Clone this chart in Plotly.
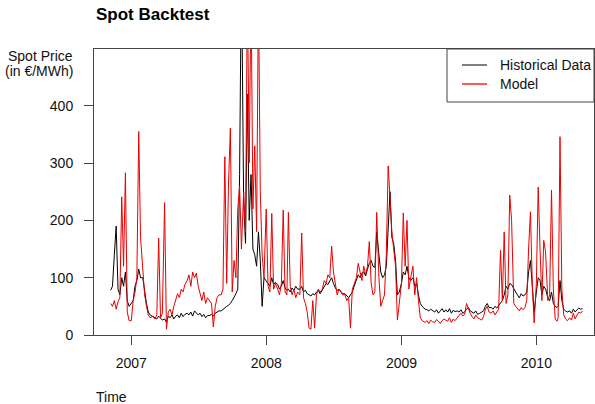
import pandas as pd
import plotly.graph_objects as go

# ---------------- data ----------------
months = pd.date_range("2006-11-01", "2010-05-01", freq="MS")
sample_days = [1, 6, 11, 16, 21, 26]

historical = [
    78, 85, 140, 190, 80,            # Nov 2006 (from day 6)
    70, 100, 85, 110, 60, 50,        # Dec 2006
    55, 60, 85, 95, 115, 100,        # Jan 2007
    100, 75, 55, 40, 35, 33,         # Feb
    32, 30, 28, 33, 30, 26,          # Mar
    28, 22, 33, 30, 35, 28,          # Apr
    33, 35, 30, 38, 32, 36,          # May
    38, 35, 40, 33, 42, 38,          # Jun
    35, 38, 32, 36, 30, 34,          # Jul
    34, 36, 33, 38, 40, 42,          # Aug
    42, 45, 48, 50, 52, 55,          # Sep
    60, 65, 72, 80, 280, 650,        # Oct
    230, 160, 420, 200, 280, 150,    # Nov
    140, 120, 180, 130, 50, 100,     # Dec 2007
    95, 90, 85, 100, 88, 92,         # Jan 2008
    88, 80, 85, 95, 82, 78,          # Feb
    80, 75, 82, 78, 85, 80,          # Mar
    80, 85, 75, 78, 72, 70,          # Apr
    68, 72, 70, 75, 78, 72,          # May
    78, 85, 90, 88, 95, 100,         # Jun
    90, 82, 78, 80, 76, 72,          # Jul
    72, 68, 65, 70, 75, 85,          # Aug
    95, 105, 100, 108, 110, 103,     # Sep
    115, 125, 130, 120, 118, 180,    # Oct
    140, 110, 100, 105, 120, 200,    # Nov
    250, 170, 160, 130, 70, 75,      # Dec 2008
    90, 110, 105, 120, 100, 95,      # Jan 2009
    100, 85, 90, 70, 55, 50,         # Feb
    48, 45, 44, 42, 45, 43,          # Mar
    40, 44, 38, 42, 46, 40,          # Apr
    44, 40, 46, 38, 43, 41,          # May
    42, 40, 44, 38, 40, 45,          # Jun
    48, 42, 40, 38, 42, 36,          # Jul
    38, 40, 42, 50, 55, 48,          # Aug
    48, 45, 50, 47, 52, 55,          # Sep
    60, 70, 85, 80, 90, 88,          # Oct
    80, 75, 70, 65, 72, 68,          # Nov
    70, 75, 110, 130, 85, 40,        # Dec 2009
    75, 100, 95, 70, 85, 80,         # Jan 2010
    65, 60, 75, 55, 50, 48,          # Feb
    50, 95, 60, 45, 42, 40,          # Mar
    42, 38, 45, 40, 44, 47,          # Apr
    45, 46,                          # May 2010
]

model = [
    55, 50, 60, 45, 58,              # Nov 2006 (from day 6)
    65, 241, 120, 283, 40, 25,       # Dec 2006
    25, 60, 75, 100, 355, 170,       # Jan 2007
    110, 70, 50, 35, 30, 32,         # Feb
    33, 28, 35, 169, 30, 38,         # Mar
    231, 10, 40, 45, 35, 50,         # Apr
    60, 72, 65, 80, 75, 88,          # May
    95, 105, 85, 110, 100, 108,      # Jun
    85, 70, 60, 75, 55, 65,          # Jul
    60, 55, 14, 50, 65, 70,          # Aug
    70, 80, 311, 90, 265, 361,       # Sep
    75, 130, 100, 220, 260, 150,     # Oct
    250, 180, 600, 300, 600, 220,    # Nov
    330, 180, 600, 250, 140, 100,    # Dec 2007
    220, 85, 75, 212, 80, 90,        # Jan 2008
    80, 70, 90, 218, 75, 70,         # Feb
    214, 85, 70, 80, 65, 75,         # Mar
    70, 178, 65, 55, 40, 12,         # Apr
    10, 60, 12, 70, 80, 75,          # May
    80, 95, 90, 105, 100, 155,       # Jun
    110, 85, 70, 80, 75, 70,         # Jul
    70, 60, 65, 12, 80, 90,          # Aug
    100, 125, 110, 95, 120, 105,     # Sep
    120, 163, 90, 70, 75, 214,       # Oct
    100, 50, 60, 70, 140, 295,       # Nov
    240, 180, 150, 120, 26, 60,      # Dec 2008
    90, 213, 120, 200, 80, 100,      # Jan 2009
    120, 70, 100, 60, 30, 25,        # Feb
    24, 22, 25, 20, 26, 23,          # Mar
    22, 27, 24, 20, 25, 28,          # Apr
    26, 24, 30, 22, 28, 25,          # May
    30, 34, 38, 33, 36, 55,          # Jun
    45, 38, 32, 28, 35, 30,          # Jul
    28, 26, 32, 45, 50, 40,          # Aug
    38, 42, 35, 40, 45, 148,         # Sep
    60, 180, 55, 70, 244, 200,       # Oct
    55, 50, 45, 42, 48, 44,          # Nov
    48, 60, 150, 215, 90, 21,        # Dec 2009
    90, 258, 150, 60, 165, 145,      # Jan 2010
    60, 70, 253, 80, 28, 24,         # Feb
    30, 346, 80, 35, 28, 25,         # Mar
    30, 26, 38, 28, 35, 40,          # Apr
    38, 42,                          # May 2010
]

year_ticks = ["2007-01-01", "2008-01-01", "2009-01-01", "2010-01-01"]
year_labels = ["2007", "2008", "2009", "2010"]
price_ticks = [0, 100, 200, 300, 400]
series_names = ["Historical Data", "Model"]

# ---------------- build date axis ----------------
dates = []
for i, m in enumerate(months):
    if i == 0:
        days = sample_days[1:]
    elif i == len(months) - 1:
        days = sample_days[:2]
    else:
        days = sample_days
    for d in days:
        dates.append(m + pd.Timedelta(days=d - 1))

BLACK = "#000000"
RED = "#e80000"
AXIS = "#444444"
FONT = "Liberation Sans, Arial, sans-serif"

fig = go.Figure()
fig.add_trace(go.Scatter(x=dates, y=historical, mode="lines", name=series_names[0],
                         line=dict(color=BLACK, width=1), showlegend=False))
fig.add_trace(go.Scatter(x=dates, y=model, mode="lines", name=series_names[1],
                         line=dict(color=RED, width=1), showlegend=False))

# plot area in pixels
L, R, T, B = 94, 594, 49, 335
W, H = 595, 404
def px(x):
    return (x - L) / (R - L)
def py(y):
    return (B - y) / (B - T)

fig.update_layout(
    width=W, height=H,
    margin=dict(l=L, r=W - R, t=T, b=H - B, pad=0),
    paper_bgcolor="white", plot_bgcolor="white",
    font=dict(family=FONT, size=14, color="#111111"),
    xaxis=dict(type="date", range=["2006-09-22", "2010-06-06"],
               tickvals=year_ticks, ticktext=year_labels,
               showgrid=False, zeroline=False,
               showline=True, mirror=True, linecolor=AXIS, linewidth=1,
               ticks="outside", ticklen=9, tickcolor=AXIS, tickwidth=1,
               ticklabelstandoff=6, tickfont=dict(size=14, color="#111111")),
    yaxis=dict(range=[0, 499], tickvals=price_ticks,
               ticktext=[str(v) for v in price_ticks],
               showgrid=False, zeroline=False,
               showline=True, mirror=True, linecolor=AXIS, linewidth=1,
               ticks="outside", ticklen=9, tickcolor=AXIS, tickwidth=1,
               ticklabelstandoff=8, tickfont=dict(size=14, color="#111111")),
)

ann = []
ann.append(dict(text="<b>Spot Backtest</b>", x=px(94), y=py(14), xref="paper", yref="paper",
                xanchor="left", yanchor="middle", showarrow=False,
                font=dict(size=17, color="#000000")))
ann.append(dict(text="Spot Price", x=px(75), y=py(56), xref="paper", yref="paper",
                xanchor="right", yanchor="middle", showarrow=False, font=dict(size=14)))
ann.append(dict(text="(in €/MWh)", x=px(75), y=py(71), xref="paper", yref="paper",
                xanchor="right", yanchor="middle", showarrow=False, font=dict(size=14)))
ann.append(dict(text="Time", x=px(94), y=py(397), xref="paper", yref="paper",
                xanchor="left", yanchor="middle", showarrow=False, font=dict(size=14)))
# legend texts
ann.append(dict(text=series_names[0], x=px(498), y=py(65), xref="paper", yref="paper",
                xanchor="left", yanchor="middle", showarrow=False, font=dict(size=14)))
ann.append(dict(text=series_names[1], x=px(498), y=py(83.5), xref="paper", yref="paper",
                xanchor="left", yanchor="middle", showarrow=False, font=dict(size=14)))
fig.update_layout(annotations=ann)

shapes = [
    dict(type="rect", xref="paper", yref="paper", x0=px(447), x1=px(594), y0=py(102), y1=py(49),
         line=dict(color=AXIS, width=1), fillcolor="white", layer="above"),
    dict(type="line", xref="paper", yref="paper", x0=px(462), x1=px(487), y0=py(65), y1=py(65),
         line=dict(color=BLACK, width=1), layer="above"),
    dict(type="line", xref="paper", yref="paper", x0=px(462), x1=px(487), y0=py(84), y1=py(84),
         line=dict(color="#ff0000", width=1.3), layer="above"),
]
fig.update_layout(shapes=shapes)

fig.write_html("out.html",
               config={"displayModeBar": False},
               post_script="document.body.style.margin='0';document.body.style.padding='0';")
